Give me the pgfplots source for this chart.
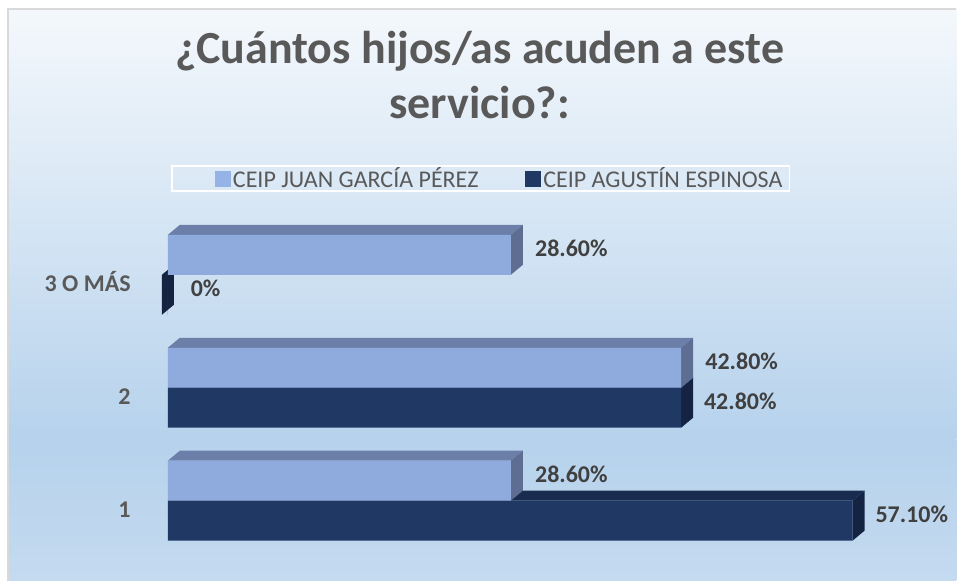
\documentclass[border=0pt]{standalone}
\usepackage{fontspec}
\setmainfont{Carlito}
\usepackage{pgfplots}
\usepackage{pgfplotstable}
\pgfplotsset{compat=1.18}
\definecolor{lfront}{HTML}{8FAADC}
\definecolor{ltop}{HTML}{6B7FA8}
\definecolor{lside}{HTML}{5D6E92}
\definecolor{dfront}{HTML}{203864}
\definecolor{dtop}{HTML}{1A2B50}
\definecolor{dside}{HTML}{152342}
\definecolor{lleg}{HTML}{95B3E7}
\definecolor{txt}{HTML}{595959}
\definecolor{vtxt}{HTML}{404040}
\definecolor{bgtop}{HTML}{F4F8FC}
\definecolor{bgmid}{HTML}{B6D2EC}
\definecolor{bgbot}{HTML}{C4DAEF}
\definecolor{framec}{HTML}{D9D9D9}

\pgfplotstableread{
c v lab
0 28.6 28.60
1 42.8 42.80
2 28.6 28.60
}\juan
\pgfplotstableread{
c v lab
0 57.1 57.10
1 42.8 42.80
2 0 0
}\agustin

\begin{document}
\begin{tikzpicture}
\fill[white] (0,0) rectangle (717.75pt,435.75pt);
\shade[top color=bgtop, bottom color=bgmid] (6pt,105.75pt) rectangle (717.75pt,429pt);
\shade[top color=bgmid, bottom color=bgbot] (6pt,0pt) rectangle (717.75pt,105.75pt);
\draw[framec, line width=1pt] (6pt,0pt) -- (6pt,429pt) -- (717.75pt,429pt);
\node[anchor=base, font=\bfseries\fontsize{34.5}{40}\selectfont, text=txt] at (360pt,387.75pt) {¿Cuántos hijos/as acuden a este};
\node[anchor=base, font=\bfseries\fontsize{34.5}{40}\selectfont, text=txt] at (360pt,347pt) {servicio?:};
\draw[white, line width=1.2pt] (129pt,292.5pt) rectangle (592.5pt,311.25pt);

\begin{axis}[
  at={(126pt,17.625pt)}, anchor=south west, scale only axis,
  width=585pt, height=254.25pt,
  xmin=0, xmax=65, ymin=-0.5, ymax=2.5, clip=false,
  axis line style={draw=none}, xtick=\empty,
  ytick={0,1,2}, yticklabels={1,2,3 O MÁS},
  major tick length=0pt, tick style={draw=none},
  yticklabel style={font=\bfseries\fontsize{18}{20}\selectfont, text=txt, anchor=base east, inner sep=0pt, xshift=-27.75pt, yshift=-12.5pt},
  legend columns=2,
  legend cell align=left,
  legend style={at={(0.426,1.118)}, anchor=center, draw=none, fill=none,
    font=\fontsize{18}{20}\selectfont, text=txt, inner sep=0pt,
    /tikz/every even column/.append style={column sep=33pt}},
]
\addlegendimage{legend image code/.code={\fill[lleg] (0pt,-5.625pt) rectangle (11.25pt,5.625pt);}}
\addlegendentry{CEIP JUAN GARCÍA PÉREZ}
\addlegendimage{legend image code/.code={\fill[dfront] (0pt,-5.625pt) rectangle (11.25pt,5.625pt);}}
\addlegendentry{CEIP AGUSTÍN ESPINOSA}

% dark series 3D faces
\addplot[fill=dtop, draw=none, forget plot] coordinates {(0,0) (57.1,0) (58.1,0.0885) (1,0.0885)} -- cycle;
\addplot[fill=dside, draw=none, forget plot] coordinates {(57.1,-0.354) (57.1,0) (58.1,0.0885) (58.1,-0.2655)} -- cycle;
\addplot[fill=dtop, draw=none, forget plot] coordinates {(0,1) (42.8,1) (43.8,1.0885) (1,1.0885)} -- cycle;
\addplot[fill=dside, draw=none, forget plot] coordinates {(42.8,0.646) (42.8,1) (43.8,1.0885) (43.8,0.7345)} -- cycle;
\addplot[fill=dside, draw=none, forget plot] coordinates {(-0.5,1.646) (-0.5,2) (0.5,2.0885) (0.5,1.7345)} -- cycle;

\addplot[xbar, bar width=30pt, bar shift=-15pt, fill=dfront, draw=none, forget plot,
  point meta=explicit symbolic, nodes near coords={\pgfplotspointmeta\%},
  every node near coord/.append style={font=\bfseries\fontsize{18}{20}\selectfont, text=vtxt, anchor=west, inner sep=0pt, xshift=17pt, yshift=-10pt}]
  table[x=v, y=c, meta=lab] {\agustin};

% light series 3D faces
\addplot[fill=ltop, draw=none, forget plot] coordinates {(0,0.354) (28.6,0.354) (29.6,0.4425) (1,0.4425)} -- cycle;
\addplot[fill=lside, draw=none, forget plot] coordinates {(28.6,0) (28.6,0.354) (29.6,0.4425) (29.6,0.0885)} -- cycle;
\addplot[fill=ltop, draw=none, forget plot] coordinates {(0,1.354) (42.8,1.354) (43.8,1.4425) (1,1.4425)} -- cycle;
\addplot[fill=lside, draw=none, forget plot] coordinates {(42.8,1) (42.8,1.354) (43.8,1.4425) (43.8,1.0885)} -- cycle;
\addplot[fill=ltop, draw=none, forget plot] coordinates {(0,2.354) (28.6,2.354) (29.6,2.4425) (1,2.4425)} -- cycle;
\addplot[fill=lside, draw=none, forget plot] coordinates {(28.6,2) (28.6,2.354) (29.6,2.4425) (29.6,2.0885)} -- cycle;

\addplot[xbar, bar width=30pt, bar shift=15pt, fill=lfront, draw=none, forget plot,
  point meta=explicit symbolic, nodes near coords={\pgfplotspointmeta\%},
  every node near coord/.append style={font=\bfseries\fontsize{18}{20}\selectfont, text=vtxt, anchor=west, inner sep=0pt, xshift=18pt, yshift=20pt}]
  table[x=v, y=c, meta=lab] {\juan};
\end{axis}
\end{tikzpicture}
\end{document}
